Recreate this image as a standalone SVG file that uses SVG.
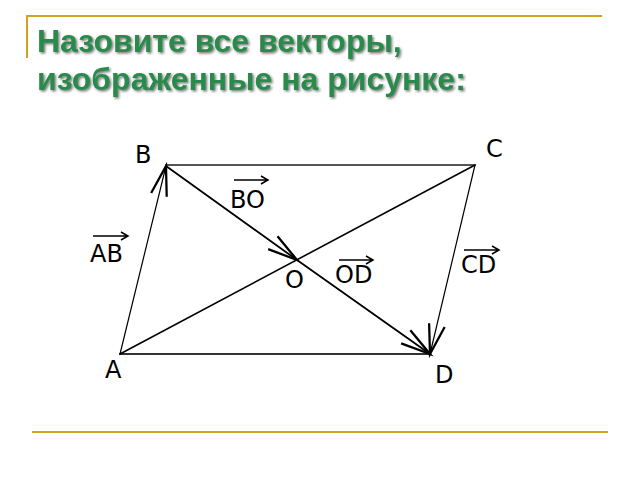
<svg xmlns="http://www.w3.org/2000/svg" width="640" height="480" viewBox="0 0 640 480">
<style>
.title{font-family:"Liberation Sans",Arial,sans-serif;font-weight:bold;font-size:32px;fill:#2B8A4C}
.lbl{font-family:"DejaVu Sans",sans-serif;font-size:24px;fill:#000}
.frame{stroke:#D4A020;stroke-width:2;fill:none}
.ln{fill:none;stroke-linecap:round}
.vec{fill:none;stroke:#000;stroke-width:1.5}
</style>
<defs>
<filter id="shadow" x="-5%" y="-20%" width="110%" height="150%">
<feDropShadow dx="1.5" dy="1.5" stdDeviation="1" flood-color="#222" flood-opacity="0.6"/>
</filter>
<marker id="ah" markerUnits="userSpaceOnUse" markerWidth="40" markerHeight="40" refX="0" refY="0" viewBox="-30 -15 35 30" orient="auto" overflow="visible">
<path d="M-26,-7 L0,0 L-26,7" fill="none" stroke="#000" stroke-width="2"/>
</marker>
</defs>
<rect width="640" height="480" fill="#fff"/>
<g id="frame">
<path class="frame" d="M27,58 V16 H602"/>
<path class="frame" d="M32,432 H608"/>
</g>
<g id="title" filter="url(#shadow)">
<text class="title" x="37" y="52">Назовите все векторы,</text>
<text class="title" x="37" y="90">изображенные на рисунке:</text>
</g>
<g id="connectors">
<line class="ln" x1="166" y1="165" x2="475" y2="165" stroke="#555" stroke-width="2"/>
<line class="ln" x1="120" y1="354" x2="430" y2="354" stroke="#333" stroke-width="2"/>
<line class="ln" x1="120" y1="354" x2="475" y2="165" stroke="#000" stroke-width="1.6"/>
<line class="ln" x1="120" y1="354" x2="166" y2="166" stroke="#000" stroke-width="1.2" marker-end="url(#ah)"/>
<line class="ln" x1="166" y1="166" x2="297" y2="260" stroke="#000" stroke-width="1.8" marker-end="url(#ah)"/>
<line class="ln" x1="297" y1="260" x2="430" y2="354" stroke="#000" stroke-width="1.8" marker-end="url(#ah)"/>
<line class="ln" x1="475" y1="165" x2="430" y2="354" stroke="#000" stroke-width="1.2" marker-end="url(#ah)"/>
</g>
<g id="point-A"><text class="lbl" x="105" y="378">A</text></g>
<g id="point-B"><text class="lbl" x="135" y="163">B</text></g>
<g id="point-C"><text class="lbl" x="486" y="157">C</text></g>
<g id="point-D"><text class="lbl" x="435" y="383">D</text></g>
<g id="point-O"><text class="lbl" x="285" y="288">O</text></g>
<g id="vec-AB">
<text class="lbl" x="90" y="262">AB</text>
<path class="vec" d="M93,236 H128 M121,232 L128,236 L121,240"/>
</g>
<g id="vec-BO">
<text class="lbl" x="230" y="208">BO</text>
<path class="vec" d="M234,180 H268 M261,176 L268,180 L261,184"/>
</g>
<g id="vec-OD">
<text class="lbl" x="335" y="283">OD</text>
<path class="vec" d="M339,260 H373 M366,256 L373,260 L366,264"/>
</g>
<g id="vec-CD">
<text class="lbl" x="461" y="273">CD</text>
<path class="vec" d="M464,250 H499 M492,246 L499,250 L492,254"/>
</g>
</svg>
